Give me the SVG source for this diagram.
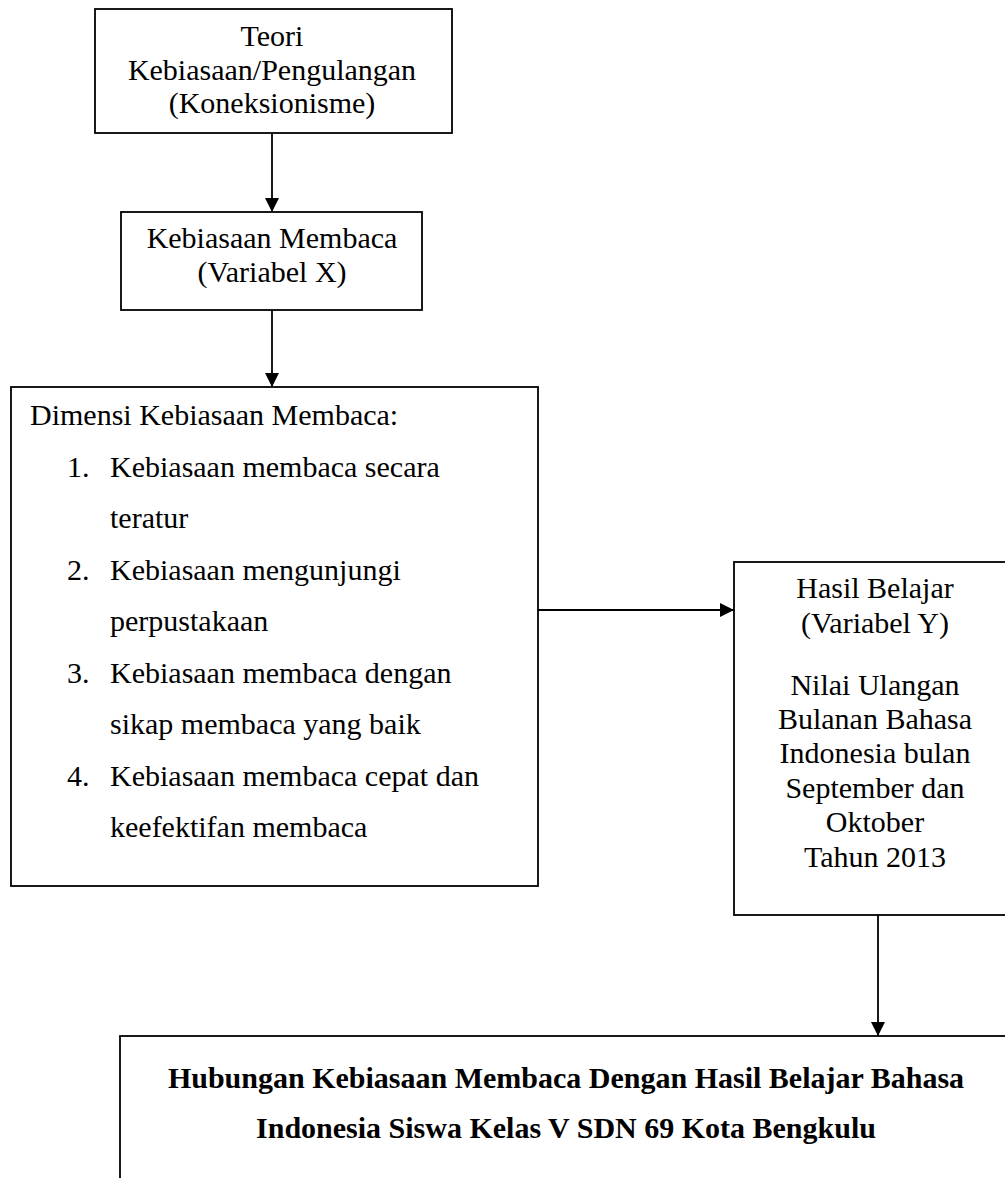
<svg xmlns="http://www.w3.org/2000/svg" width="1005" height="1178" viewBox="0 0 1005 1178">
<style>
.box{fill:#fff;stroke:#000;stroke-width:1.8}
.t{font-family:"Liberation Serif","Times New Roman",serif;font-size:30px;fill:#000}
.c{text-anchor:middle}
.b{font-weight:bold}
.ln{stroke:#000;stroke-width:1.8;fill:none}
</style>
<defs>
<marker id="ah" viewBox="0 0 14 14" refX="14" refY="7" markerWidth="14" markerHeight="14" markerUnits="userSpaceOnUse" orient="auto">
<path d="M0,0 L14,7 L0,14 Z" fill="#000"/>
</marker>
</defs>
<rect width="1005" height="1178" fill="#fff"/>
<g id="connectors">
<line class="ln" x1="272" y1="133" x2="272" y2="212" marker-end="url(#ah)"/>
<line class="ln" x1="272" y1="310" x2="272" y2="387" marker-end="url(#ah)"/>
<line class="ln" x1="538" y1="610" x2="734" y2="610" marker-end="url(#ah)"/>
<line class="ln" x1="878" y1="915" x2="878" y2="1036" marker-end="url(#ah)"/>
</g>
<g id="teori">
<rect class="box" x="95" y="9" width="357" height="124"/>
<text class="t c" x="272" y="46">Teori</text>
<text class="t c" x="272" y="80">Kebiasaan/Pengulangan</text>
<text class="t c" x="272" y="113">(Koneksionisme)</text>
</g>
<g id="kebiasaan">
<rect class="box" x="121" y="212" width="301" height="98"/>
<text class="t c" x="272" y="248">Kebiasaan Membaca</text>
<text class="t c" x="272" y="282">(Variabel X)</text>
</g>
<g id="dimensi">
<rect class="box" x="11" y="387" width="527" height="499"/>
<text class="t" x="30" y="425">Dimensi Kebiasaan Membaca:</text>
<text class="t" x="67" y="477">1.</text>
<text class="t" x="110" y="477">Kebiasaan membaca secara</text>
<text class="t" x="110" y="528">teratur</text>
<text class="t" x="67" y="580">2.</text>
<text class="t" x="110" y="580">Kebiasaan mengunjungi</text>
<text class="t" x="110" y="631">perpustakaan</text>
<text class="t" x="67" y="683">3.</text>
<text class="t" x="110" y="683">Kebiasaan membaca dengan</text>
<text class="t" x="110" y="734">sikap membaca yang baik</text>
<text class="t" x="67" y="786">4.</text>
<text class="t" x="110" y="786">Kebiasaan membaca cepat dan</text>
<text class="t" x="110" y="837">keefektifan membaca</text>
</g>
<g id="hasil">
<rect class="box" x="734" y="562" width="282" height="353"/>
<text class="t c" x="875" y="598">Hasil Belajar</text>
<text class="t c" x="875" y="633">(Variabel Y)</text>
<text class="t c" x="875" y="695">Nilai Ulangan</text>
<text class="t c" x="875" y="729">Bulanan Bahasa</text>
<text class="t c" x="875" y="763">Indonesia bulan</text>
<text class="t c" x="875" y="798">September dan</text>
<text class="t c" x="875" y="832">Oktober</text>
<text class="t c" x="875" y="867">Tahun 2013</text>
</g>
<g id="hubungan">
<rect class="box" x="120" y="1036" width="892" height="160"/>
<text class="t c b" x="566" y="1088">Hubungan Kebiasaan Membaca Dengan Hasil Belajar Bahasa</text>
<text class="t c b" x="566" y="1138">Indonesia Siswa Kelas V SDN 69 Kota Bengkulu</text>
</g>
</svg>
